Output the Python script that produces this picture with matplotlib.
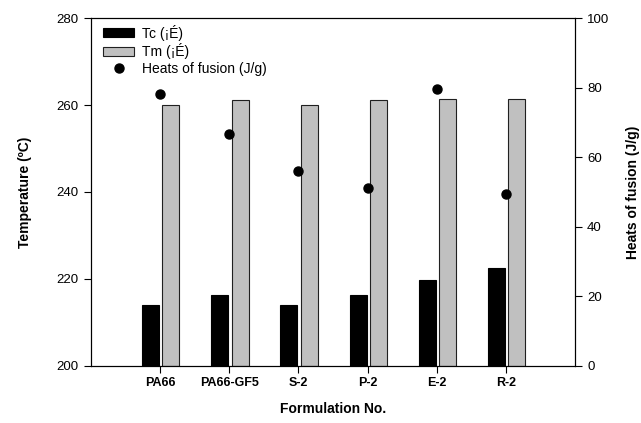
import numpy as np
import matplotlib
matplotlib.use("Agg")
import matplotlib.pyplot as plt

plt.rcParams['font.family'] = ['Liberation Sans', 'DejaVu Sans']

formulations = ["PA66", "PA66-GF5", "S-2", "P-2", "E-2", "R-2"]
tc = [213.9, 216.3, 214.0, 216.2, 219.7, 222.6]
tm = [260.15, 261.3, 260.15, 261.1, 261.4, 261.4]
heats = [78.2, 66.8, 56.0, 51.1, 79.7, 49.5]

x = np.arange(1, len(formulations) + 1)
w = 0.245

fig = plt.figure(figsize=(6.41, 4.23), dpi=100)
ax = fig.add_axes([0.1415, 0.1355, 0.756, 0.8212])

b1 = ax.bar(x - 0.138, np.array(tc) - 200, w, bottom=200, color="black",
            edgecolor="black", linewidth=0.8)
b2 = ax.bar(x + 0.157, np.array(tm) - 200, w, bottom=200, color="#c0c0c0",
            edgecolor="#202020", linewidth=0.8)
ax.set_xlim(0, 7)
ax.set_ylim(200, 280)
ax.set_yticks([200, 220, 240, 260, 280])
ax.set_xticks(x)
ax.set_xticklabels(formulations, fontweight="bold", fontsize=9)
ax.tick_params(axis="y", labelsize=9.5, direction="out", length=5)
ax.tick_params(axis="x", direction="out", length=5)
ax.set_ylabel("Temperature (ºC)", fontweight="bold", fontsize=10, labelpad=18)
ax.set_xlabel("Formulation No.", fontweight="bold", fontsize=10, labelpad=9)

ax2 = ax.twinx()
sc, = ax2.plot(x, heats, "o", color="black", markersize=6.5, linestyle="none")
ax2.set_ylim(0, 100)
ax2.set_yticks([0, 20, 40, 60, 80, 100])
ax2.tick_params(axis="y", labelsize=9.5, direction="out", length=5)
ax2.set_ylabel("Heats of fusion (J/g)", fontweight="bold", fontsize=10, labelpad=12)

for a in (ax, ax2):
    for s in a.spines.values():
        s.set_linewidth(0.8)

ax.legend([b1, b2, sc], ["Tc (¡É)", "Tm (¡É)", "Heats of fusion (J/g)"],
          loc="upper left", frameon=False, fontsize=10, handlelength=2.25,
          handleheight=0.6, handletextpad=0.55, labelspacing=0.2,
          borderaxespad=0.5, bbox_to_anchor=(0.0, 1.018))

fig.savefig("out.png", dpi=100)
